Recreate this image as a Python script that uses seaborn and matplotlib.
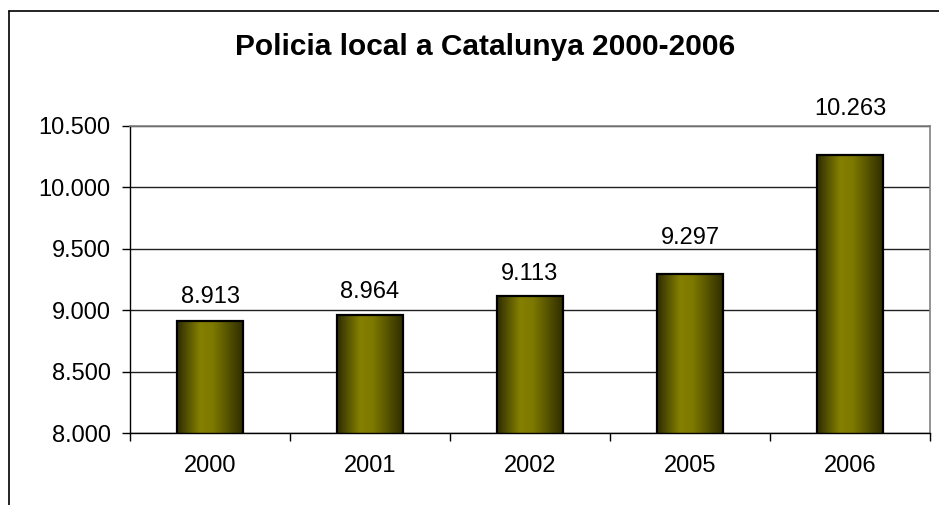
import numpy as np
import pandas as pd
import matplotlib
matplotlib.use('Agg')
import matplotlib.pyplot as plt
from matplotlib.colors import LinearSegmentedColormap
from matplotlib.lines import Line2D
import seaborn as sns

years = ['2000', '2001', '2002', '2005', '2006']
agents = [8913, 8964, 9113, 9297, 10263]
y_ticks = [8000, 8500, 9000, 9500, 10000, 10500]

TITLE = 'Policia local a Catalunya 2000-2006'
# gap (pixels) between bar top and its value label, as placed in the original
LABEL_GAPS = [18, 17, 16, 30, 40]


def fmt_thousands(v):
    return f'{int(v):,}'.replace(',', '.')


sns.set_theme(style='white')
plt.rcParams['font.family'] = ['Liberation Sans', 'DejaVu Sans']

df = pd.DataFrame({'year': years, 'agents': agents})

fig = plt.figure(figsize=(9.39, 5.05), dpi=100)
ax = fig.add_axes([130 / 939, 72 / 505, 800 / 939, 307 / 505])

sns.barplot(data=df, x='year', y='agents', color='#808000', width=0.41,
            edgecolor='black', linewidth=1.6, ax=ax)

# horizontal gradient inside each bar (dark edges, olive middle)
shade = LinearSegmentedColormap.from_list(
    'olive_shade',
    [(0.0, '#2e2c00'), (0.35, '#858000'), (0.55, '#7d7800'), (1.0, '#2f2d00')])
grad = np.linspace(0, 1, 256).reshape(1, -1)
for patch in ax.patches:
    x0 = patch.get_x()
    w = patch.get_width()
    h = patch.get_height()
    img = ax.imshow(grad, cmap=shade, aspect='auto',
                    extent=[x0, x0 + w, 8000, h], zorder=2)
    img.set_clip_path(patch)
    patch.set_facecolor('none')
    patch.set_zorder(3)

ax.set_xlim(-0.5, len(years) - 0.5)
ax.set_ylim(8000, 10500)
ax.set_yticks(y_ticks)
ax.set_yticklabels([fmt_thousands(t) for t in y_ticks])
ax.set_xlabel('')
ax.set_ylabel('')

ax.yaxis.grid(True, color='#202020', linewidth=1.0)
ax.set_axisbelow(True)

for spine in ['left', 'bottom']:
    ax.spines[spine].set_color('black')
    ax.spines[spine].set_linewidth(1.0)
for spine in ['top', 'right']:
    ax.spines[spine].set_color('#808080')
    ax.spines[spine].set_linewidth(1.2)

ax.tick_params(axis='y', which='major', left=True, length=6, width=1.0,
               color='black', pad=8, labelsize=17, labelcolor='black')
ax.tick_params(axis='x', which='major', bottom=False, length=0, pad=16,
               labelsize=17, labelcolor='black')
ax.set_xticks(np.arange(-0.5, len(years)), minor=True)
ax.tick_params(axis='x', which='minor', bottom=True, length=6, width=1.0,
               color='black', direction='out')

for i, (v, gap) in enumerate(zip(agents, LABEL_GAPS)):
    ax.annotate(fmt_thousands(v), xy=(i, v), xytext=(0, gap),
                textcoords='offset pixels', ha='center', va='baseline',
                fontsize=17, color='black', annotation_clip=False)

fig.text(485 / 939, 1 - 47 / 505, TITLE, ha='center', va='center',
         fontsize=21.5, fontweight='bold', color='black')

# chart frame (left and top edges visible)
fig.add_artist(Line2D([9 / 939, 9 / 939], [0, 1 - 11 / 505],
                      transform=fig.transFigure, color='black', linewidth=1.2))
fig.add_artist(Line2D([9 / 939, 1], [1 - 11 / 505, 1 - 11 / 505],
                      transform=fig.transFigure, color='black', linewidth=1.2))

fig.savefig('out.png', dpi=100, facecolor='white')
